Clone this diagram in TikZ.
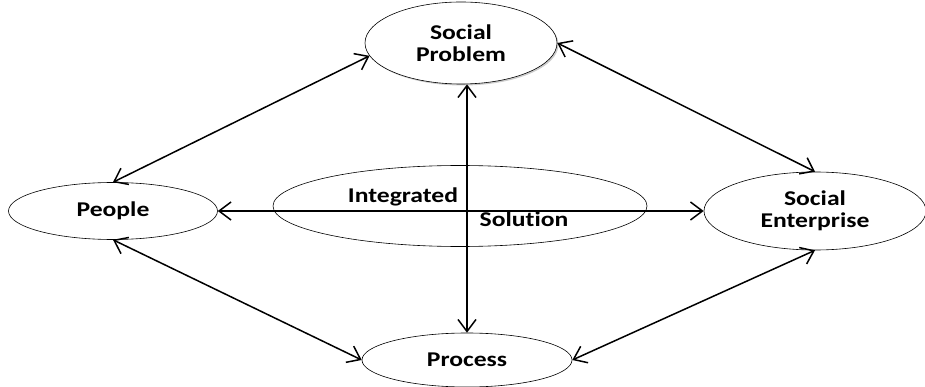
\documentclass[tikz,border=0pt]{standalone}
\usepackage{fontspec}
\setmainfont{Carlito}[FakeStretch=1.22,Ligatures={NoCommon}]
\usepackage{tikz}
\usetikzlibrary{arrows.meta,shapes.geometric,shadows}

\begin{document}
\begin{tikzpicture}[x=1pt,y=-1pt,<->,>={Straight Barb[length=12pt,width=18pt]},line width=1.5pt,
    main node/.style={ellipse,draw,line width=0.6pt,inner sep=0pt,fill=white,align=center,font=\fontsize{21}{22}\selectfont\bfseries},
    label node/.style={inner sep=0pt,font=\fontsize{21}{22}\selectfont\bfseries}]
  \useasboundingbox (0,0) rectangle (925,387);
  \node[main node,minimum width=374pt,minimum height=81pt] (sol) at (460,206) {};
  \node[label node] (integrated) at (403,197) {Integrated};
  \node[label node] (solution) at (524,219) {Solution};
  \node[main node,minimum width=192pt,minimum height=82pt,drop shadow={shadow xshift=1.5pt,shadow yshift=-1.5pt,opacity=0.4}] (sp) at (461,43) {Social\\Problem};
  \node[main node,minimum width=209pt,minimum height=57pt] (pe) at (113,211) {People};
  \node[main node,minimum width=222pt,minimum height=78pt] (se) at (815,211) {Social\\Enterprise};
  \node[main node,minimum width=210pt,minimum height=54pt] (pr) at (467,360) {Process};

  \draw (pe.north) -- (sp.188);
  \draw (sp.east) -- (se.north);
  \draw (pe.south) -- (pr.west);
  \draw (pr.east) -- (se.south);
  \draw (pr.north |- sp.south) -- (pr.north);
  \draw (pe.east) -- (se.west);
\end{tikzpicture}
\end{document}
